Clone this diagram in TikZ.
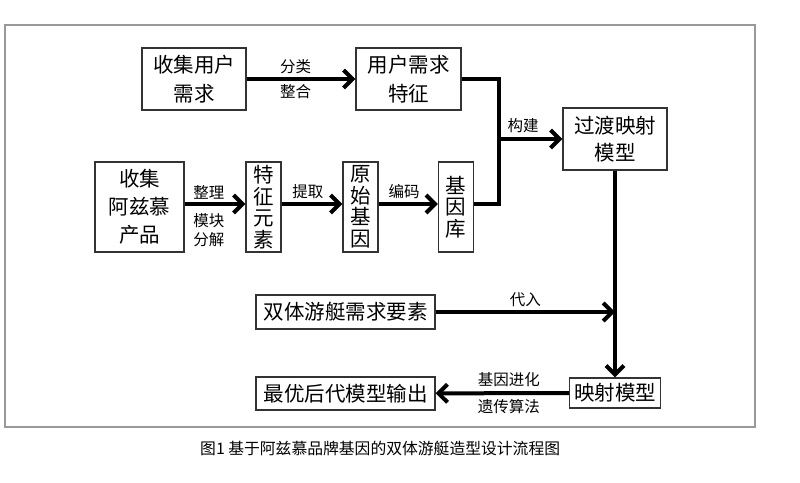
\documentclass[tikz,border=0pt]{standalone}
\usepackage{fontspec}
\setmainfont{Noto Sans CJK SC}
\usetikzlibrary{arrows.meta}
\begin{document}
\begin{tikzpicture}[x=1pt,y=-1pt,
		box/.style={draw=black!80,line width=1.3pt,align=center,inner sep=0pt,
			font=\fontsize{20.5}{29}\selectfont},
		vbox/.style={box,minimum width=35pt,minimum height=90pt,
			font=\fontsize{20.5}{21.5}\selectfont},
		lab/.style={inner sep=0pt,align=center,font=\fontsize{15.5}{19}\selectfont},
		arr/.style={line width=4pt,-{Straight Barb[length=9pt,width=18pt]}},
		link/.style={line width=4pt}]
	\useasboundingbox (0,0) rectangle (800,482);
	\draw[black!40,line width=1.2pt] (5,25) rectangle (755,427);
	% upper row
	\node[box,minimum width=104pt,minimum height=62pt] (need) at (194,79) {收集用户\\需求};
	\node[box,minimum width=105pt,minimum height=62pt] (feat) at (408.5,79) {用户需求\\特征};
	% middle row
	\node[box,minimum width=89pt,minimum height=90pt,font=\fontsize{20.5}{28}\selectfont]
		(prod) at (139.5,207) {收集\\阿兹慕\\产品};
	\foreach \n/\x/\t in {elem/263.5/特\\征\\元\\素,
						gene/360.5/原\\始\\基\\因,
						lib/456/基\\因\\库}
		\node[vbox] (\n) at (\x,207) {\t};
	\node[box,minimum width=104pt,minimum height=62pt,font=\fontsize{20.5}{27}\selectfont]
		(trans) at (615,139) {过渡映射\\模型};
	% lower rows
	\node[box,minimum width=179pt,minimum height=34pt] (boat) at (345.5,312) {双体游艇需求要素};
	\node[box,minimum width=91pt,minimum height=30pt] (map) at (615,393) {映射模型};
	\node[box,minimum width=179pt,minimum height=33pt] (out) at (345.5,393.5) {最优后代模型输出};
	\coordinate (j) at (499,139);
	% connectors
	\draw[arr] (need) -- (feat)
		node[lab,pos=.45,above=3pt] {分类} node[lab,pos=.45,below=3pt] {整合};
	\draw[arr] ([yshift=3pt]prod.east) -- ([yshift=3pt]elem.west)
		node[lab,pos=.4,above=3pt] {整理} node[lab,pos=.4,below=7pt] {模块\\分解};
	\draw[arr] ([yshift=3pt]elem.east) -- ([yshift=3pt]gene.west)
		node[lab,pos=.43,above=3pt] {提取};
	\draw[arr] ([yshift=3pt]gene.east) -- ([yshift=3pt]lib.west)
		node[lab,pos=.43,above=3pt] {编码};
	\draw[link] (feat.east) -| (j) |- ([yshift=3pt]lib.east);
	\draw[arr] (j) -- (trans) node[lab,pos=.38,above=4pt] {构建};
	\draw[arr] (trans) -- (map);
	\draw[arr] (boat) -- (boat.east -| trans.south) node[lab,midway,above=3pt] {代入};
	\draw[arr] (map) -- (out)
		node[lab,pos=.45,above=4pt] {基因进化} node[lab,pos=.45,below=4pt] {遗传算法};
	% caption
	\node[anchor=west,inner sep=0pt,font=\fontsize{15.8}{18}\selectfont] (cap) at (200,448)
		{图1 基于阿兹慕品牌基因的双体游艇造型设计流程图};
\end{tikzpicture}
\end{document}
